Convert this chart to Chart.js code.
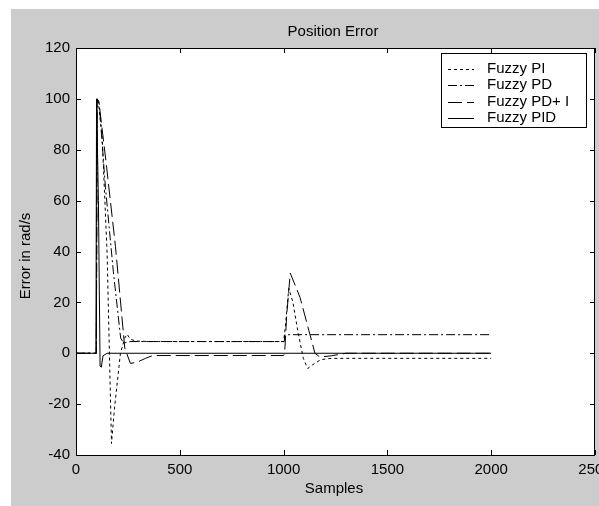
<!DOCTYPE html>
<html>
<head>
<meta charset="utf-8">
<script src="https://cdn.jsdelivr.net/npm/chart.js@4/dist/chart.umd.min.js"></script>
<style>
  body { margin: 0; background: #fff; }
  canvas { display: block; }
</style>
</head>
<body>
<canvas id="c" width="599" height="506"></canvas>
<script>
// values
var seriesNames = ["Fuzzy PI", "Fuzzy PD", "Fuzzy PD+ I", "Fuzzy PID"];

var piSamples = [0, 98, 101, 110, 126, 150, 171, 185, 214, 235, 246, 262, 290, 350, 1000, 1008, 1025, 1045, 1070, 1095, 1116, 1140, 1180, 1230, 2000];
var piError   = [0, 0, 100, 97, 85, 39, -35.5, -22, 0, 6, 7.5, 5.5, 4.8, 4.6, 4.6, 10, 25.5, 20, 8, -2, -6, -4.5, -2.5, -2, -2];

var pdSamples = [0, 98, 102, 112, 142, 180, 215, 230, 260, 1003, 1006, 2000];
var pdError   = [0, 0, 100, 98, 65, 32, 6, 4, 4.6, 4.6, 7.3, 7.3];

var pdiSamples = [0, 98, 102, 110, 145, 190, 235, 262, 295, 335, 370, 1000, 1005, 1015, 1032, 1079, 1151, 1175, 1230, 1300, 2000];
var pdiError   = [0, 0, 100, 99, 75, 42, 2, -4, -3.5, -2, -0.9, -0.9, 0, 15, 31.5, 22, 0, -1.5, -1, 0, 0];

var pidSamples = [0, 96, 99, 108, 116, 122, 130, 150, 2000];
var pidError   = [0, 0, 100, 60, -5, -5.5, -1, 0, 0];

var xTicks = [0, 500, 1000, 1500, 2000, 2500];
var yTicks = [-40, -20, 0, 20, 40, 60, 80, 100, 120];

function pts(xs, ys) {
    var out = [];
    for (var i = 0; i < xs.length; i++) out.push({x: xs[i], y: ys[i]});
    return out;
}

var W = 599, H = 506;
var FONT = '"Liberation Sans", Arial, sans-serif';

Chart.defaults.font.family = FONT;
Chart.defaults.font.size = 15;
Chart.defaults.color = '#000';

var frame = {
    id: 'frame',
    beforeDraw: function (chart) {
        var c = chart.ctx, a = chart.chartArea;
        c.save();
        c.fillStyle = '#fff';
        c.fillRect(0, 0, W, H);
        c.fillStyle = '#cccccc';
        c.fillRect(11, 9, W - 11, H - 9);
        c.fillStyle = '#fff';
        c.fillRect(a.left, a.top, a.right - a.left, a.bottom - a.top);
        c.restore();
    },
    afterDraw: function (chart) {
        var c = chart.ctx, a = chart.chartArea;
        var xs = chart.scales.x, ys = chart.scales.y;
        c.save();
        c.strokeStyle = '#000';
        c.lineWidth = 1;
        c.setLineDash([]);
        c.strokeRect(a.left + 0.5, a.top + 0.5, a.right - a.left - 1, a.bottom - a.top);

        // inward ticks on all four sides
        c.beginPath();
        xTicks.forEach(function (v) {
            var px = Math.round(xs.getPixelForValue(v)) + 0.5;
            c.moveTo(px, a.bottom); c.lineTo(px, a.bottom - 5);
            c.moveTo(px, a.top); c.lineTo(px, a.top + 5);
        });
        yTicks.forEach(function (v) {
            var py = Math.round(ys.getPixelForValue(v)) + 0.5;
            c.moveTo(a.left, py); c.lineTo(a.left + 5, py);
            c.moveTo(a.right, py); c.lineTo(a.right - 5, py);
        });
        c.stroke();

        c.fillStyle = '#000';
        c.font = '15px ' + FONT;
        c.textAlign = 'center';
        c.textBaseline = 'middle';
        c.fillText('Position Error', 333, 32);
        c.fillText('Samples', 334, 489);
        c.save();
        c.translate(26, 256);
        c.rotate(-Math.PI / 2);
        c.fillText('Error in rad/s', 0, 0);
        c.restore();

        // legend box
        var lx = 441, ly = 53, lw = 145, lh = 74;
        c.fillStyle = '#fff';
        c.fillRect(lx, ly, lw, lh);
        c.strokeRect(lx + 0.5, ly + 0.5, lw, lh);
        chart.data.datasets.forEach(function (ds, i) {
            var y = ly + 15.5 + i * 16.5;
            c.setLineDash(ds.borderDash || []);
            c.beginPath();
            c.moveTo(448, Math.round(y) + 0.5);
            c.lineTo(474, Math.round(y) + 0.5);
            c.stroke();
            c.setLineDash([]);
            c.fillStyle = '#000';
            c.textAlign = 'left';
            c.fillText(ds.label, 487, y);
        });
        c.restore();
    }
};

new Chart(document.getElementById('c').getContext('2d'), {
    type: 'line',
    data: {
        datasets: [
            { label: seriesNames[0], data: pts(piSamples, piError), borderDash: [3, 3] },
            { label: seriesNames[1], data: pts(pdSamples, pdError), borderDash: [9, 3, 2, 3] },
            { label: seriesNames[2], data: pts(pdiSamples, pdiError), borderDash: [14, 5] },
            { label: seriesNames[3], data: pts(pidSamples, pidError) }
        ].map(function (d) {
            d.borderColor = '#000';
            d.borderWidth = 1;
            d.pointRadius = 0;
            d.tension = 0;
            d.fill = false;
            return d;
        })
    },
    options: {
        responsive: false,
        animation: false,
        events: [],
        layout: { padding: { left: 0, top: 48, right: 4, bottom: 0 } },
        plugins: { legend: { display: false }, title: { display: false }, tooltip: { enabled: false } },
        scales: {
            x: {
                type: 'linear', min: 0, max: 2500,
                grid: { display: false, drawTicks: false },
                border: { display: false },
                ticks: { stepSize: 500, padding: 6, maxRotation: 0, autoSkip: false,
                         callback: function (v) { return String(v); } },
                afterFit: function (s) { s.height = 51; s.paddingLeft = 0; s.paddingRight = 0; }
            },
            y: {
                type: 'linear', min: -40, max: 120,
                grid: { display: false, drawTicks: false },
                border: { display: false },
                ticks: { stepSize: 20, padding: 6, callback: function (v) { return String(v); } },
                afterFit: function (s) { s.width = 76; s.paddingTop = 0; s.paddingBottom = 0; }
            }
        }
    },
    plugins: [frame]
});
</script>
</body>
</html>
